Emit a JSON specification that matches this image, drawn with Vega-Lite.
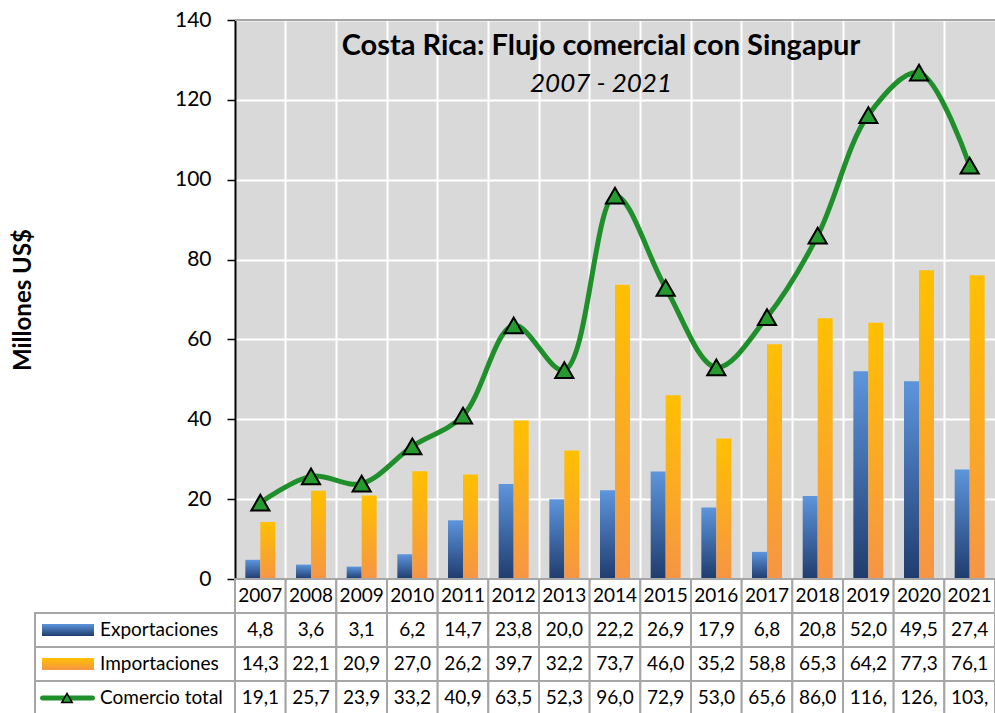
{
  "$schema": "https://vega.github.io/schema/vega-lite/v6.json",
  "autosize": "none",
  "width": 760,
  "height": 693,
  "padding": {"left": 235, "top": 20, "right": 0, "bottom": 0},
  "config": {
    "font": "Lato",
    "view": {"fill": "#D9D9D9", "stroke": null},
    "locale": {"number": {"decimal": ",", "thousands": ".", "grouping": [3], "currency": ["", ""]}}
  },
  "title": {
    "text": "Costa Rica: Flujo comercial con Singapur",
    "subtitle": "2007 - 2021",
    "anchor": "middle",
    "frame": "group",
    "offset": -88,
    "dx": -14,
    "fontSize": 29,
    "fontWeight": "bold",
    "color": "black",
    "subtitleFontSize": 26,
    "subtitleFontStyle": "italic",
    "subtitleColor": "black",
    "subtitlePadding": 10
  },
  "datasets": {
    "d": [
      {"year": "2007", "exp": 4.8, "imp": 14.3, "total": 19.1, "totalLabel": "19,1"},
      {"year": "2008", "exp": 3.6, "imp": 22.1, "total": 25.7, "totalLabel": "25,7"},
      {"year": "2009", "exp": 3.1, "imp": 20.9, "total": 23.9, "totalLabel": "23,9"},
      {"year": "2010", "exp": 6.2, "imp": 27.0, "total": 33.2, "totalLabel": "33,2"},
      {"year": "2011", "exp": 14.7, "imp": 26.2, "total": 40.9, "totalLabel": "40,9"},
      {"year": "2012", "exp": 23.8, "imp": 39.7, "total": 63.5, "totalLabel": "63,5"},
      {"year": "2013", "exp": 20.0, "imp": 32.2, "total": 52.3, "totalLabel": "52,3"},
      {"year": "2014", "exp": 22.2, "imp": 73.7, "total": 96.0, "totalLabel": "96,0"},
      {"year": "2015", "exp": 26.9, "imp": 46.0, "total": 72.9, "totalLabel": "72,9"},
      {"year": "2016", "exp": 17.9, "imp": 35.2, "total": 53.0, "totalLabel": "53,0"},
      {"year": "2017", "exp": 6.8, "imp": 58.8, "total": 65.6, "totalLabel": "65,6"},
      {"year": "2018", "exp": 20.8, "imp": 65.3, "total": 86.0, "totalLabel": "86,0"},
      {"year": "2019", "exp": 52.0, "imp": 64.2, "total": 116.2, "totalLabel": "116,"},
      {"year": "2020", "exp": 49.5, "imp": 77.3, "total": 126.8, "totalLabel": "126,"},
      {"year": "2021", "exp": 27.4, "imp": 76.1, "total": 103.5, "totalLabel": "103,"}
    ],
    "legendRows": [
      {"row": "exp", "label": "Exportaciones"},
      {"row": "imp", "label": "Importaciones"},
      {"row": "total", "label": "Comercio total"}
    ]
  },
  "data": {"name": "d"},
  "layer": [
    {
      "layer": [
        {
          "transform": [
            {"fold": ["exp", "imp"], "as": ["serie", "valor"]},
            {"filter": "datum.serie === 'exp'"}
          ],
          "mark": {
            "type": "bar",
            "fill": {"gradient": "linear", "x1": 0, "y1": 0, "x2": 0, "y2": 1,
              "stops": [{"offset": 0, "color": "#5D95DD"}, {"offset": 1, "color": "#1F3C6E"}]}
          },
          "encoding": {
            "x": {"field": "year", "type": "ordinal", "scale": {"type": "band", "paddingInner": 0, "paddingOuter": 0},
              "axis": {"orient": "top", "labels": false, "ticks": false, "domain": false, "title": null, "grid": true, "gridColor": "white", "gridWidth": 2, "bandPosition": 0}},
            "xOffset": {"field": "serie", "type": "nominal", "scale": {"domain": ["exp", "imp"], "paddingInner": 0, "paddingOuter": 0.69}},
            "y": {"field": "valor", "type": "quantitative",
              "scale": {"domain": [0, 140], "range": [559, 0], "nice": false},
              "axis": {
                "values": [0, 20, 40, 60, 80, 100, 120, 140],
                "title": "Millones US$",
                "titleFontSize": 24,
                "titleFontWeight": "bold",
                "titleColor": "black",
                "titleX": -212,
                "titleY": 279.5,
                "titleAngle": 270,
                "titleAlign": "center",
                "titleBaseline": "middle",
                "labelFontSize": 21,
                "labelColor": "black",
                "labelPadding": 16,
                "tickSize": 8,
                "tickColor": "black",
                "tickWidth": 1.5,
                "domainColor": "black",
                "domainWidth": 2,
                "grid": true,
                "gridColor": "white",
                "gridWidth": 2
              }}
          }
        },
        {
          "transform": [
            {"fold": ["exp", "imp"], "as": ["serie", "valor"]},
            {"filter": "datum.serie === 'imp'"}
          ],
          "mark": {
            "type": "bar",
            "fill": {"gradient": "linear", "x1": 0, "y1": 0, "x2": 0, "y2": 1,
              "stops": [{"offset": 0, "color": "#FFC000"}, {"offset": 1, "color": "#F69545"}]}
          },
          "encoding": {
            "x": {"field": "year", "type": "ordinal"},
            "xOffset": {"field": "serie", "type": "nominal"},
            "y": {"field": "valor", "type": "quantitative"}
          }
        },
        {
          "mark": {"type": "rule", "color": "#A6A6A6", "strokeWidth": 1.5},
          "encoding": {"y": {"datum": 140, "type": "quantitative"}}
        },
        {
          "mark": {"type": "line", "interpolate": "catmull-rom", "color": "#1F8F2B", "strokeWidth": 5},
          "encoding": {
            "x": {"field": "year", "type": "ordinal"},
            "y": {"field": "total", "type": "quantitative"}
          }
        },
        {
          "mark": {"type": "point", "shape": "triangle-up", "filled": true, "fill": "#249A2F", "stroke": "black", "strokeWidth": 2, "size": 330, "opacity": 1},
          "encoding": {
            "x": {"field": "year", "type": "ordinal"},
            "y": {"field": "total", "type": "quantitative"}
          }
        }
      ]
    },
    {
      "layer": [
        {
          "transform": [{"fold": ["year", "exp", "imp", "total"], "as": ["row", "v"]}],
          "mark": {"type": "rect", "fill": "white", "stroke": "#A6A6A6", "strokeWidth": 2},
          "encoding": {
            "x": {"field": "year", "type": "ordinal", "scale": {"type": "band", "paddingInner": 0, "paddingOuter": 0}, "axis": null},
            "y": {"field": "row", "type": "ordinal",
              "scale": {"type": "band", "domain": ["year", "exp", "imp", "total"], "range": [559, 695], "paddingInner": 0, "paddingOuter": 0},
              "axis": null}
          }
        },
        {
          "mark": {"type": "text", "fontSize": 19, "color": "black", "baseline": "middle", "align": "center"},
          "encoding": {
            "x": {"field": "year", "type": "ordinal"},
            "y": {"datum": "year", "type": "ordinal"},
            "text": {"field": "year"}
          }
        },
        {
          "transform": [{"fold": ["exp", "imp"], "as": ["row", "v"]}],
          "mark": {"type": "text", "fontSize": 19, "color": "black", "baseline": "middle", "align": "center"},
          "encoding": {
            "x": {"field": "year", "type": "ordinal"},
            "y": {"field": "row", "type": "ordinal"},
            "text": {"field": "v", "type": "quantitative", "format": ".1f"}
          }
        },
        {
          "mark": {"type": "text", "fontSize": 19, "color": "black", "baseline": "middle", "align": "center"},
          "encoding": {
            "x": {"field": "year", "type": "ordinal"},
            "y": {"datum": "total", "type": "ordinal"},
            "text": {"field": "totalLabel"}
          }
        }
      ]
    },
    {
      "data": {"name": "legendRows"},
      "layer": [
        {
          "mark": {"type": "rect", "fill": "white", "stroke": "#A6A6A6", "strokeWidth": 2},
          "encoding": {
            "x": {"datum": 0, "type": "quantitative", "scale": {"domain": [0, 200], "range": [-200, 0], "nice": false, "zero": false}, "axis": null},
            "x2": {"datum": 200},
            "y": {"field": "row", "type": "ordinal",
              "scale": {"type": "band", "domain": ["year", "exp", "imp", "total"], "range": [559, 695], "paddingInner": 0, "paddingOuter": 0},
              "axis": null}
          }
        },
        {
          "transform": [{"filter": "datum.row === 'exp'"}],
          "mark": {"type": "bar", "height": 12,
            "fill": {"gradient": "linear", "x1": 0, "y1": 0, "x2": 0, "y2": 1,
              "stops": [{"offset": 0, "color": "#5D95DD"}, {"offset": 1, "color": "#1F3C6E"}]}},
          "encoding": {
            "x": {"datum": 7, "type": "quantitative"},
            "x2": {"datum": 59},
            "y": {"field": "row", "type": "ordinal"}
          }
        },
        {
          "transform": [{"filter": "datum.row === 'imp'"}],
          "mark": {"type": "bar", "height": 12,
            "fill": {"gradient": "linear", "x1": 0, "y1": 0, "x2": 0, "y2": 1,
              "stops": [{"offset": 0, "color": "#FFC000"}, {"offset": 1, "color": "#F69545"}]}},
          "encoding": {
            "x": {"datum": 7, "type": "quantitative"},
            "x2": {"datum": 59},
            "y": {"field": "row", "type": "ordinal"}
          }
        },
        {
          "transform": [{"filter": "datum.row === 'total'"}],
          "mark": {"type": "bar", "height": 5, "cornerRadius": 2.5, "fill": "#1F8F2B"},
          "encoding": {
            "x": {"datum": 5, "type": "quantitative"},
            "x2": {"datum": 60},
            "y": {"field": "row", "type": "ordinal"}
          }
        },
        {
          "transform": [{"filter": "datum.row === 'total'"}],
          "mark": {"type": "point", "shape": "triangle-up", "filled": true, "fill": "#249A2F", "stroke": "black", "strokeWidth": 1.5, "size": 110, "opacity": 1},
          "encoding": {
            "x": {"datum": 32, "type": "quantitative"},
            "y": {"field": "row", "type": "ordinal"}
          }
        },
        {
          "mark": {"type": "text", "fontSize": 19, "color": "black", "baseline": "middle", "align": "left"},
          "encoding": {
            "x": {"datum": 65, "type": "quantitative"},
            "y": {"field": "row", "type": "ordinal"},
            "text": {"field": "label"}
          }
        }
      ]
    }
  ],
  "resolve": {
    "scale": {"x": "independent", "y": "independent"},
    "axis": {"x": "independent", "y": "independent"}
  }
}
